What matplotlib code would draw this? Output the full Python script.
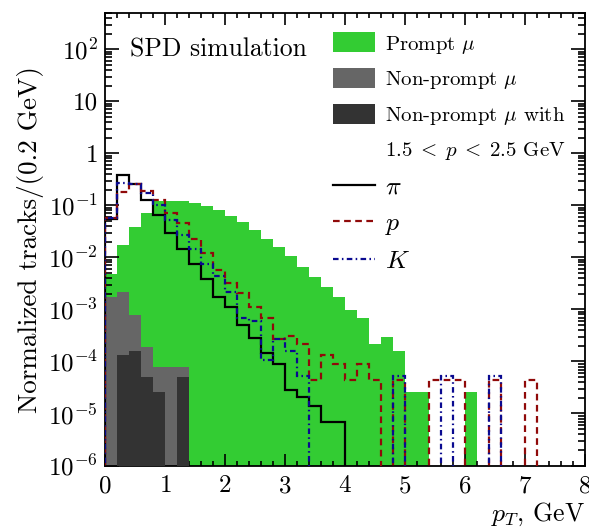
import numpy as np
import matplotlib
matplotlib.use("Agg")
import matplotlib.pyplot as plt
from matplotlib.patches import Patch
from matplotlib.lines import Line2D
from matplotlib.ticker import FixedLocator, LogLocator, FuncFormatter, NullFormatter

plt.rcParams['font.family'] = 'serif'
plt.rcParams['font.serif'] = ['cmr10']
plt.rcParams['mathtext.fontset'] = 'cm'
plt.rcParams['axes.formatter.use_mathtext'] = True

# bins of 0.2 GeV from 0 to 8
edges = np.linspace(0, 8, 41)

# prompt muons (green fill)
prompt_mu = [0.0048, 0.0174, 0.038, 0.071, 0.122, 0.121, 0.121, 0.113, 0.0975, 0.082,
             0.063, 0.0475, 0.0338, 0.0227, 0.0157, 0.0108, 0.0065, 0.00416, 0.00274, 0.00176,
             9.8e-4, 6.8e-4, 2.15e-4, 2.9e-4, 1.6e-4, 2.6e-5, 2.6e-5, 0, 0, 0,
             2.6e-5, 0, 0, 0, 0, 0, 0, 0, 0, 0]
# non-prompt muons (gray fill)
nonprompt_mu = [1.72e-3, 2.2e-3, 7.8e-4, 1.93e-4, 7.8e-5, 7.8e-5, 7.8e-5] + [0] * 33
# non-prompt muons with 1.5 < p < 2.5 GeV (dark fill)
nonprompt_mu_p = [0, 1.33e-4, 1.59e-4, 5.1e-5, 2.6e-5, 0, 5.1e-5] + [0] * 33

pion = [0.055, 0.39, 0.26, 0.128, 0.064, 0.030, 0.0144, 0.0074, 0.0038, 0.0017,
        0.0011, 5.0e-4, 2.8e-4, 1.48e-4, 9.0e-5, 2.8e-5, 2.07e-5, 1.4e-5, 6.9e-6, 6.9e-6,
        0, 0, 0, 0, 0, 0, 0, 0, 0, 0, 0, 0, 0, 0, 0, 0, 0, 0, 0, 0]
proton = [0.0575, 0.184, 0.256, 0.193, 0.128, 0.0727, 0.0455, 0.0224, 0.0121, 0.00576,
          0.00327, 0.00205, 0.00113, 6.95e-4, 2.67e-4, 3.1e-4, 2.17e-4, 4.4e-5, 1.32e-4, 8.8e-5,
          4.4e-5, 8.8e-5, 4.4e-5, 0, 4.4e-5, 0, 0, 4.4e-5, 4.4e-5, 4.4e-5,
          0, 0, 4.4e-5, 0, 0, 4.4e-5, 0, 0, 0, 0]
kaon = [0.0575, 0.267, 0.256, 0.172, 0.102, 0.0526, 0.0271, 0.0146, 0.0074, 0.0044,
        0.0022, 6.8e-4, 6.0e-4, 1.06e-4, 2.65e-4, 1.59e-4, 5.3e-5, 0, 0, 0,
        0, 0, 0, 0, 5.3e-5, 0, 0, 0, 5.3e-5, 0,
        0, 0, 5.3e-5, 0, 0, 0, 0, 0, 0, 0]

floor = 1e-9  # empty bins drawn below the axis


def clean(v):
    v = np.asarray(v, dtype=float)
    return np.where(v > 0, v, floor)


fig = plt.figure(figsize=(5.89, 5.31), dpi=100)
ax = fig.add_axes([105 / 589, 1 - 465.5 / 531, 480 / 589, 452.5 / 531])

ax.stairs(clean(prompt_mu), edges, fill=True, baseline=floor, color='#33cc33', zorder=1)
ax.stairs(clean(nonprompt_mu), edges, fill=True, baseline=floor, color='#666666', zorder=2)
ax.stairs(clean(nonprompt_mu_p), edges, fill=True, baseline=floor, color='#333333', zorder=3)

ax.stairs(clean(pion), edges, baseline=floor, color='black', lw=1.6, zorder=4)
ax.stairs(clean(proton), edges, baseline=floor, color='#900a0a', lw=1.6,
          linestyle=(0, (3, 2)), zorder=5)
ax.stairs(clean(kaon), edges, baseline=floor, color='#0a0a90', lw=1.6,
          linestyle=(0, (2.5, 1.5, 0.7, 1.5)), zorder=6)

ax.set_yscale('log')
ax.set_xlim(0, 8)
ax.set_ylim(1e-6, 500)


def ylab(v, pos):
    k = int(round(np.log10(v)))
    if k == 0:
        return '1'
    if k == 1:
        return '10'
    return r'$10^{%d}$' % k


ax.yaxis.set_major_locator(FixedLocator([10.0 ** k for k in range(-6, 3)]))
ax.yaxis.set_major_formatter(FuncFormatter(ylab))
ax.yaxis.set_minor_locator(LogLocator(base=10, subs=np.arange(2, 10), numticks=20))
ax.yaxis.set_minor_formatter(NullFormatter())
ax.set_xticks(range(0, 9))
ax.set_xticks(edges, minor=True)

ax.tick_params(which='both', direction='in', top=True, right=True, labelsize=18, width=1.2)
ax.tick_params(axis='x', which='major', length=8.5, pad=7)
ax.tick_params(axis='x', which='minor', length=3.8)
ax.tick_params(axis='y', which='major', length=10, pad=5)
ax.tick_params(axis='y', which='minor', length=5)
for s in ax.spines.values():
    s.set_linewidth(1.3)

ax.set_ylabel('Normalized tracks/(0.2 GeV)', fontsize=19.5)
ax.yaxis.set_label_coords(-0.128, 0.5)
ax.set_xlabel(r'$p_T$, GeV', fontsize=18.5, loc='right')
ax.xaxis.set_label_coords(1.0, -0.078)

ax.text(0.052, 0.918, 'SPD simulation', transform=ax.transAxes, fontsize=18.5,
        ha='left', va='center')

handles = [
    Patch(facecolor='#33cc33', edgecolor='none'),
    Patch(facecolor='#666666', edgecolor='none'),
    Patch(facecolor='#333333', edgecolor='none'),
    Line2D([], [], color='none'),
    Line2D([], [], color='black', lw=1.6),
    Line2D([], [], color='#900a0a', lw=1.6, linestyle=(0, (3, 2))),
    Line2D([], [], color='#0a0a90', lw=1.6, linestyle=(0, (2.5, 1.5, 0.7, 1.5))),
]
labels = [r'Prompt $\mu$', r'Non-prompt $\mu$', r'Non-prompt $\mu$ with',
          r'$1.5\;<\;p\;<\;2.5$ GeV', r'$\pi$', r'$p$', r'$K$']
leg = ax.legend(handles, labels, loc='upper left', bbox_to_anchor=(0.475, 0.957),
                frameon=False, fontsize=15, borderpad=0, borderaxespad=0,
                handlelength=2.0, handleheight=1.1, handletextpad=0.5, labelspacing=0.6)
# particle symbols are set a bit larger
for t in leg.get_texts()[4:]:
    t.set_fontsize(18.5)

fig.savefig('out.png', dpi=100)
